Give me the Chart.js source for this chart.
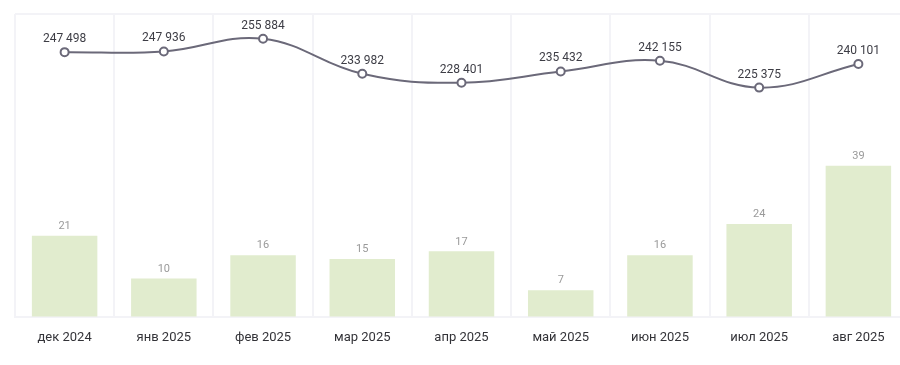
<!DOCTYPE html>
<html>
<head>
<meta charset="utf-8">
<script src="https://cdn.jsdelivr.net/npm/chart.js@4/dist/chart.umd.min.js"></script>
<style>
    html, body { margin: 0; padding: 0; background: #fff; overflow: hidden; }
    #wrap { width: 914px; height: 365px; position: relative; }
</style>
</head>
<body>
<div id="wrap"><canvas id="mixChart"></canvas></div>
<script>
const months = ['дек 2024', 'янв 2025', 'фев 2025', 'мар 2025', 'апр 2025', 'май 2025', 'июн 2025', 'июл 2025', 'авг 2025'];
const barValues = [21, 10, 16, 15, 17, 7, 16, 24, 39];
const lineValues = [247498, 247936, 255884, 233982, 228401, 235432, 242155, 225375, 240101];

const fontFamily = 'Roboto, "DejaVu Sans", sans-serif';

function fmt(v) {
    // space groups like in the picture
    return String(v).replace(/\B(?=(\d{3})+(?!\d))/g, ' ');
}

// simple value labels (no datalabels plugin available offline)
const valueLabels = {
    id: 'valueLabels',
    afterDatasetsDraw(chart) {
        const ctx = chart.ctx;
        ctx.save();
        ctx.textAlign = 'center';
        ctx.textBaseline = 'bottom';
        chart.data.datasets.forEach((ds, i) => {
            const meta = chart.getDatasetMeta(i);
            meta.data.forEach((el, j) => {
                if (ds.type === 'line') {
                    ctx.font = '12px ' + fontFamily;
                    ctx.fillStyle = '#3d3d45';
                    ctx.fillText(fmt(ds.data[j]), el.x, el.y - 7);
                } else {
                    ctx.font = '11px ' + fontFamily;
                    ctx.fillStyle = '#9a9a9a';
                    ctx.fillText(fmt(ds.data[j]), el.x, el.y - 4);
                }
            });
        });
        ctx.restore();
    }
};

const ctx = document.getElementById('mixChart').getContext('2d');
const mixChart = new Chart(ctx, {
    data: {
        labels: months,
        datasets: [{
            type: 'line',
            label: 'line',
            data: lineValues,
            yAxisID: 'y2',
            borderColor: '#6b6979',
            borderWidth: 2,
            tension: 0.4,
            pointRadius: 4,
            pointBorderWidth: 2,
            pointBackgroundColor: '#ffffff',
            pointBorderColor: '#6b6979',
            order: 0
        }, {
            type: 'bar',
            label: 'bar',
            data: barValues,
            yAxisID: 'y',
            backgroundColor: '#e1ecce',
            barPercentage: 0.66,
            categoryPercentage: 1,
            order: 1
        }]
    },
    options: {
        responsive: true,
        maintainAspectRatio: false,
        animation: false,
        layout: {
            padding: { top: 14, left: 15, right: 2, bottom: 6 }
        },
        plugins: {
            legend: { display: false },
            tooltip: { enabled: false }
        },
        scales: {
            x: {
                grid: {
                    display: true,
                    color: '#f3f3f7',
                    lineWidth: 2,
                    drawTicks: false
                },
                border: { display: true, color: '#f3f3f7', width: 2 },
                ticks: {
                    color: '#333338',
                    padding: 13,
                    font: { family: fontFamily, size: 13 }
                }
            },
            y: {
                min: 0,
                max: 78,
                display: true,
                afterBuildTicks: (axis) => {
                    axis.ticks = [{ value: 0 }, { value: 78 }];
                },
                grid: { color: '#f3f3f7', lineWidth: 2, drawTicks: false },
                border: { display: false },
                ticks: { display: false }
            },
            y2: {
                min: 82000,
                max: 271300,
                display: false
            }
        }
    },
    plugins: [valueLabels]
});
</script>
</body>
</html>
